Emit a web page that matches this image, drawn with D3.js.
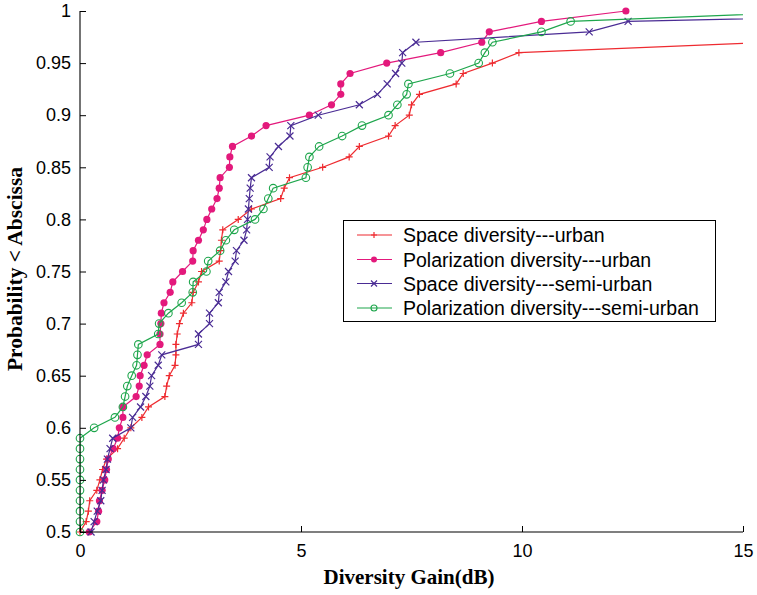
<!DOCTYPE html>
<html><head><meta charset="utf-8">
<script src="https://cdn.jsdelivr.net/npm/d3@7"></script>
<style>body{margin:0;background:#fff}svg{display:block}</style>
</head><body><div id="chart"></div>
<script>
const xTicks = [0, 5, 10, 15];
const yTicks = [0.5, 0.55, 0.6, 0.65, 0.7, 0.75, 0.8, 0.85, 0.9, 0.95, 1];
const yTickLabels = ["0.5","0.55","0.6","0.65","0.7","0.75","0.8","0.85","0.9","0.95","1"];

const seriesNames = ["Space diversity---urban","Polarization diversity---urban","Space diversity---semi-urban","Polarization diversity---semi-urban"];

const spaceUrbanGain = [0,0.14,0.19,0.22,0.38,0.45,0.51,0.6,0.85,1.0,1.15,1.4,1.55,1.92,1.96,2.02,2.15,2.17,2.17,2.2,2.25,2.34,2.53,2.56,2.68,2.75,3.15,3.18,3.2,3.23,3.58,3.88,4.54,4.62,4.74,5.49,6.09,6.32,6.98,7.13,7.45,7.5,7.68,8.51,8.67,9.33,9.93,15.6];
const spaceUrbanProb = [0.50,0.51,0.52,0.53,0.54,0.55,0.56,0.57,0.58,0.59,0.60,0.61,0.62,0.63,0.64,0.65,0.66,0.67,0.68,0.69,0.70,0.71,0.72,0.73,0.74,0.75,0.76,0.77,0.78,0.79,0.80,0.81,0.82,0.83,0.84,0.85,0.86,0.87,0.88,0.89,0.90,0.91,0.92,0.93,0.94,0.95,0.96,0.97];

const polUrbanGain = [0.21,0.38,0.42,0.44,0.5,0.56,0.6,0.64,0.75,0.85,0.89,0.97,0.97,1.27,1.34,1.36,1.45,1.52,1.81,1.81,1.83,1.84,1.9,2.04,2.1,2.32,2.55,2.56,2.68,2.79,2.87,2.98,3.1,3.15,3.17,3.38,3.39,3.45,3.88,4.21,5.19,5.69,5.9,5.9,6.11,6.94,8.16,9.09,9.26,10.44,12.35];
const polUrbanProb = [0.50,0.51,0.52,0.53,0.54,0.55,0.56,0.57,0.58,0.59,0.60,0.61,0.62,0.63,0.64,0.65,0.66,0.67,0.68,0.69,0.70,0.71,0.72,0.73,0.74,0.75,0.76,0.77,0.78,0.79,0.80,0.81,0.82,0.83,0.84,0.85,0.86,0.87,0.88,0.89,0.90,0.91,0.92,0.93,0.94,0.95,0.96,0.97,0.98,0.99,1.00];

const spaceSemiGain = [0.25,0.32,0.39,0.47,0.5,0.53,0.59,0.62,0.68,0.74,1.15,1.19,1.37,1.49,1.58,1.62,1.77,1.85,2.68,2.68,2.93,2.93,3.13,3.15,3.3,3.36,3.51,3.54,3.71,3.77,3.79,3.81,3.83,3.85,3.88,4.28,4.3,4.49,4.75,4.77,5.39,6.32,6.73,6.95,7.14,7.28,7.3,7.6,11.52,12.4,22.8];
const spaceSemiProb = [0.50,0.51,0.52,0.53,0.54,0.55,0.56,0.57,0.58,0.59,0.60,0.61,0.62,0.63,0.64,0.65,0.66,0.67,0.68,0.69,0.70,0.71,0.72,0.73,0.74,0.75,0.76,0.77,0.78,0.79,0.80,0.81,0.82,0.83,0.84,0.85,0.86,0.87,0.88,0.89,0.90,0.91,0.92,0.93,0.94,0.95,0.96,0.97,0.98,0.99,1.00];

const polSemiGain = [0,0,0,0,0,0,0,0,0,0,0.32,0.79,0.97,1.02,1.07,1.17,1.28,1.3,1.32,1.77,1.79,2.0,2.3,2.55,2.56,2.86,2.9,3.17,3.3,3.49,3.96,4.15,4.26,4.37,5.11,5.15,5.19,5.41,5.93,6.38,6.98,7.18,7.39,7.43,8.37,9.02,9.16,9.33,10.44,11.1,17.0];
const polSemiProb = [0.50,0.51,0.52,0.53,0.54,0.55,0.56,0.57,0.58,0.59,0.60,0.61,0.62,0.63,0.64,0.65,0.66,0.67,0.68,0.69,0.70,0.71,0.72,0.73,0.74,0.75,0.76,0.77,0.78,0.79,0.80,0.81,0.82,0.83,0.84,0.85,0.86,0.87,0.88,0.89,0.90,0.91,0.92,0.93,0.94,0.95,0.96,0.97,0.98,0.99,1.00];

const W = 757, H = 595;
const L = 80, R = 743, T = 11, B = 532;
const colors = ["#ee2b30", "#e3197c", "#4a2c94", "#1ea64c"];
const markers = ["plus", "dot", "cross", "circle"];

const series = [
  {name: seriesNames[0], gain: spaceUrbanGain, prob: spaceUrbanProb},
  {name: seriesNames[1], gain: polUrbanGain, prob: polUrbanProb},
  {name: seriesNames[2], gain: spaceSemiGain, prob: spaceSemiProb},
  {name: seriesNames[3], gain: polSemiGain, prob: polSemiProb}
].map((s, i) => ({...s, color: colors[i], marker: markers[i],
  pts: s.gain.map((g, j) => [g, s.prob[j]])}));

const x = d3.scaleLinear().domain([0, 15]).range([L, R]);
const y = d3.scaleLinear().domain([0.5, 1]).range([B, T]);

const svg = d3.select("#chart").append("svg").attr("width", W).attr("height", H);
const defs = svg.append("defs");
defs.append("clipPath").attr("id", "clip")
  .append("rect").attr("x", L - 6).attr("y", T - 6).attr("width", R - L + 6).attr("height", B - T + 12);
defs.append("clipPath").attr("id", "clipLine")
  .append("rect").attr("x", L).attr("y", T - 6).attr("width", R - L).attr("height", B - T + 12);

function drawMarker(g, m, color, sz) {
  const s = sz || 3.5;
  if (m === "plus") {
    g.append("path").attr("d", `M${-s},0H${s}M0,${-s}V${s}`).attr("stroke", color).attr("stroke-width", 1.2).attr("fill", "none");
  } else if (m === "cross") {
    g.append("path").attr("d", `M${-s},${-s}L${s},${s}M${-s},${s}L${s},${-s}`).attr("stroke", color).attr("stroke-width", 1.2).attr("fill", "none");
  } else if (m === "dot") {
    g.append("circle").attr("r", sz ? 3 : 3.6).attr("fill", color);
  } else {
    g.append("circle").attr("r", sz ? 3 : 3.8).attr("fill", "none").attr("stroke", color).attr("stroke-width", 1.1);
  }
}

const line = d3.line().x(d => x(d[0])).y(d => y(d[1]));
const plot = svg.append("g");
series.forEach(s => {
  plot.append("path").attr("d", line(s.pts)).attr("fill", "none")
    .attr("stroke", s.color).attr("stroke-width", 1.2).attr("clip-path", "url(#clipLine)");
  const mg = plot.append("g").attr("clip-path", "url(#clip)");
  s.pts.filter(p => p[0] <= 15).forEach(p => {
    const g = mg.append("g").attr("transform", `translate(${x(p[0])},${y(p[1])})`);
    drawMarker(g, s.marker, s.color);
  });
});

// axes
const xAxis = d3.axisBottom(x).tickValues(xTicks).tickSize(-6).tickPadding(12).tickFormat(d3.format("d"));
const yAxis = d3.axisLeft(y).tickValues(yTicks).tickSize(-6).tickPadding(9).tickFormat((d, i) => yTickLabels[i]);
const gx = svg.append("g").attr("transform", `translate(0,${B})`).call(xAxis);
const gy = svg.append("g").attr("transform", `translate(${L},0)`).call(yAxis);
[gx, gy].forEach(g => {
  g.select(".domain").attr("stroke", "#000").attr("stroke-width", 1.1);
  g.selectAll(".tick line").attr("stroke", "#000").attr("stroke-width", 1);
  g.selectAll(".tick text").attr("font-family", "'Liberation Sans', Arial, sans-serif").attr("font-size", 18).attr("fill", "#000");
});
gx.select(".domain").attr("d", `M${L},0H${R}`);
gy.select(".domain").attr("d", `M0,${B}V${T}`);

svg.append("text").attr("x", 409).attr("y", 584).attr("text-anchor", "middle")
  .attr("font-family", "'Liberation Serif', 'Times New Roman', serif").attr("font-weight", "bold").attr("font-size", 21)
  .text("Diversity Gain(dB)");
svg.append("text").attr("transform", "translate(22,269) rotate(-90)").attr("text-anchor", "middle")
  .attr("font-family", "'Liberation Serif', 'Times New Roman', serif").attr("font-weight", "bold").attr("font-size", 21.5)
  .text("Probability < Abscissa");

// legend
const lg = svg.append("g");
lg.append("rect").attr("x", 343.5).attr("y", 220.5).attr("width", 372).attr("height", 101)
  .attr("fill", "#fff").attr("stroke", "#000").attr("stroke-width", 1);
const rowY = [235, 259.5, 283.5, 308];
series.forEach((s, i) => {
  lg.append("line").attr("x1", 357).attr("x2", 392).attr("y1", rowY[i]).attr("y2", rowY[i])
    .attr("stroke", s.color).attr("stroke-width", 1.2);
  const g = lg.append("g").attr("transform", `translate(374,${rowY[i]})`);
  drawMarker(g, s.marker, s.color, 3);
  lg.append("text").attr("x", 403).attr("y", rowY[i]).attr("dy", "0.36em")
    .attr("font-family", "'Liberation Sans', Arial, sans-serif").attr("font-size", 19.5).attr("fill", "#000")
    .text(s.name);
});
</script></body></html>
